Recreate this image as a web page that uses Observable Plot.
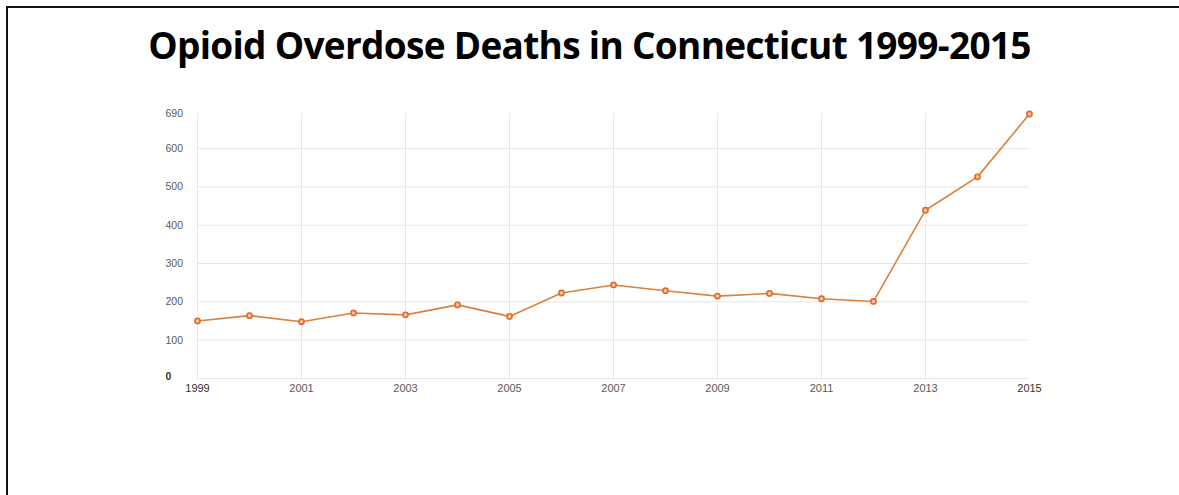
<!DOCTYPE html>
<html>
<head>
<meta charset="utf-8">
<script src="https://cdn.jsdelivr.net/npm/d3@7"></script>
<script src="https://cdn.jsdelivr.net/npm/@observablehq/plot@0.6"></script>
<style>
  html, body { margin: 0; padding: 0; background: #fff; overflow: hidden; }
  #wrap { position: relative; width: 1179px; height: 495px; overflow: hidden; background: #fff; }
  #frameTop { position: absolute; left: 6px; top: 6px; right: 0; height: 2px; background: #111; }
  #frameLeft { position: absolute; left: 6px; top: 6px; bottom: 0; width: 2px; background: #111; }
  #title { position: absolute; left: 0; top: 0; width: 1179px; height: 90px; text-align: center;
           font-family: "Open Sans", sans-serif; font-weight: bold; font-size: 37px; color: #000;
           line-height: 90px; letter-spacing: -0.7px; }
  #chart { position: absolute; left: 0; top: 90px; }
</style>
</head>
<body>
<div id="wrap">
  <div id="frameTop"></div>
  <div id="frameLeft"></div>
  <div id="title">Opioid Overdose Deaths in Connecticut 1999-2015</div>
  <div id="chart"></div>
</div>
<script>
const years = [1999,2000,2001,2002,2003,2004,2005,2006,2007,2008,2009,2010,2011,2012,2013,2014,2015];
const deaths = [150,164,148,171,166,192,162,223,244,229,215,222,208,201,439,526,690];
const xTicks = [1999,2001,2003,2005,2007,2009,2011,2013,2015];
const yTicks = [100,200,300,400,500,600,690];
const yZero = [0];
const yGrid = [0,100,200,300,400,500,600];

const data = years.map((y, i) => ({year: y, deaths: deaths[i]}));

const chart = Plot.plot({
  width: 1179,
  height: 405,
  marginLeft: 197,
  marginRight: 150,
  marginTop: 23.5,
  marginBottom: 117,
  style: {fontFamily: "'Liberation Sans', Arial, sans-serif", background: "transparent"},
  x: {domain: [1999, 2015], axis: null},
  y: {domain: [0, 690], axis: null},
  marks: [
    Plot.ruleY(yGrid, {stroke: "#e6e6e6", strokeWidth: 1}),
    Plot.ruleX(xTicks.slice(0, -1), {stroke: "#e6e6e6", strokeWidth: 1}),
    Plot.text(xTicks, {
      x: d => d, frameAnchor: "bottom", dy: 13, text: d => String(d),
      fontSize: 11, fill: d => (d === 1999 || d === 2015) ? "#333" : "#5a5a5a",
      fontWeight: d => (d === 1999 || d === 2015) ? "bold" : "normal"
    }),
    Plot.text(yTicks, {
      y: d => d, frameAnchor: "left", textAnchor: "start", dx: -32,
      text: d => String(d), fontSize: 10.5, fill: "#5a5a5a"
    }),
    Plot.text(yZero, {
      y: d => d, frameAnchor: "left", textAnchor: "start", dx: -32, dy: -2,
      text: d => String(d), fontSize: 10.5, fill: "#333", fontWeight: "bold"
    }),
    Plot.line(data, {x: "year", y: "deaths", stroke: "#d9813e", strokeWidth: 1.6}),
    Plot.dot(data, {x: "year", y: "deaths", r: 2.6, stroke: "#e06a28", strokeWidth: 1.6, fill: "#f6c9a4"})
  ]
});
document.getElementById("chart").appendChild(chart);
</script>
</body>
</html>
